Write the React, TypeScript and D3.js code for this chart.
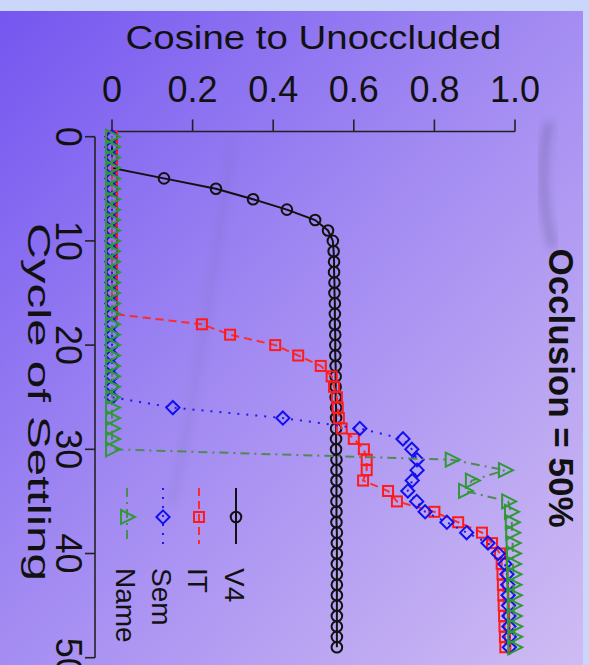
import React from 'react';
import * as d3 from 'd3';

// Settling cycle index (one point per cycle)
const cycles = [
  0, 1, 2, 3, 4, 5, 6, 7, 8, 9, 10, 11, 12, 13, 14, 15, 16, 17, 18, 19, 20, 21, 22, 23, 24,
  25, 26, 27, 28, 29, 30, 31, 32, 33, 34, 35, 36, 37, 38, 39, 40, 41, 42, 43, 44, 45, 46, 47, 48, 49,
];

// Cosine to the unoccluded pattern, per layer
const v4 = [
  0, 0, 0, 0, 0.129, 0.258, 0.35, 0.434, 0.504, 0.536, 0.548,
  0.55, 0.551, 0.551, 0.552, 0.552, 0.553, 0.553, 0.553, 0.554, 0.554,
  0.554, 0.555, 0.555, 0.555, 0.555, 0.556, 0.556, 0.556, 0.556, 0.556,
  0.557, 0.557, 0.557, 0.557, 0.557, 0.557, 0.557, 0.558, 0.558, 0.558,
  0.558, 0.558, 0.558, 0.558, 0.558, 0.558, 0.558, 0.558, 0.558,
];
const it = [
  0, 0, 0, 0, 0, 0, 0, 0, 0, 0, 0, 0, 0, 0, 0, 0, 0, 0,
  0.223, 0.293, 0.405, 0.462, 0.518, 0.545, 0.551, 0.558, 0.56, 0.563, 0.57, 0.6,
  0.625, 0.632, 0.632, 0.623, 0.685, 0.707, 0.8, 0.859, 0.918, 0.943,
  0.963, 0.967, 0.969, 0.97, 0.971, 0.972, 0.973, 0.974, 0.975, 0.976,
];
const sem = [
  0, 0, 0, 0, 0, 0, 0, 0, 0, 0, 0, 0, 0, 0, 0, 0, 0, 0, 0, 0, 0, 0, 0, 0, 0, 0,
  0.151, 0.424, 0.615, 0.722, 0.744, 0.757, 0.757, 0.745, 0.734, 0.756,
  0.777, 0.831, 0.88, 0.933, 0.958, 0.975, 0.98, 0.982, 0.983, 0.984,
  0.985, 0.985, 0.986, 0.986,
];
const nameLayer = [
  0, 0, 0, 0, 0, 0, 0, 0, 0, 0, 0, 0, 0, 0, 0, 0, 0, 0, 0, 0, 0, 0, 0, 0, 0, 0, 0, 0, 0, 0, 0,
  0.843, 0.975, 0.893, 0.876, 0.983,
  0.99, 0.992, 0.993, 0.994, 0.995, 0.995, 0.996, 0.996, 0.997, 0.997, 0.997, 0.998, 0.998, 0.998,
];

const cosineTicks = [0, 0.2, 0.4, 0.6, 0.8, 1.0];
const cosineTickLabels = ['0', '0.2', '0.4', '0.6', '0.8', '1.0'];
const cycleTicks = [0, 10, 20, 30, 40, 50];

const seriesNames = ['V4', 'IT', 'Sem', 'Name'];

type Shape = 'circle' | 'square' | 'diamond' | 'triangle';

interface Series {
  label: string;
  values: number[];
  line: string;
  marker: string;
  dash: string | undefined;
  shape: Shape;
}

const series: Series[] = [
  { label: seriesNames[0], values: v4, line: '#111111', marker: '#111111', dash: undefined, shape: 'circle' },
  { label: seriesNames[1], values: it, line: '#ff2a2a', marker: '#ff1a1a', dash: '8 5', shape: 'square' },
  { label: seriesNames[2], values: sem, line: '#1a1aee', marker: '#1010f0', dash: '2 7', shape: 'diamond' },
  { label: seriesNames[3], values: nameLayer, line: '#4f8a55', marker: '#2f9a35', dash: '9 5 2 5', shape: 'triangle' },
];

const W = 589;
const H = 665;

// Cosine runs left to right along the top, cycles run downward
const x = d3.scaleLinear().domain([0, 1]).range([112, 515]);
const y = d3.scaleLinear().domain([0, 50]).range([136.7, 657.7]);

const FONT = '"Liberation Sans", Arial, Helvetica, sans-serif';

function Marker({ shape, cx, cy, color }: { shape: Shape; cx: number; cy: number; color: string }) {
  const sw = 2;
  if (shape === 'circle') {
    return <circle cx={cx} cy={cy} r={5.3} fill="none" stroke={color} strokeWidth={sw} />;
  }
  if (shape === 'square') {
    return <rect x={cx - 5} y={cy - 5} width={10} height={10} fill="none" stroke={color} strokeWidth={sw} />;
  }
  if (shape === 'diamond') {
    const r = 6.6;
    const pts = [[cx, cy - r], [cx + r, cy], [cx, cy + r], [cx - r, cy]];
    return <polygon points={pts.map((p) => p.join(',')).join(' ')} fill="none" stroke={color} strokeWidth={sw} />;
  }
  // triangle pointing right
  const pts = [[cx - 6, cy - 7], [cx + 8, cy], [cx - 6, cy + 7]];
  return <polygon points={pts.map((p) => p.join(',')).join(' ')} fill="none" stroke={color} strokeWidth={sw} />;
}

export default function App() {
  const line = d3
    .line<number>()
    .x((d) => x(d))
    .y((_, i) => y(cycles[i]));

  const legendX = [236, 199, 163, 127];
  const legendMarkerY = 517;

  return (
    <svg
      width={W}
      height={H}
      viewBox={`0 0 ${W} ${H}`}
      style={{ position: 'absolute', left: 0, top: 0, display: 'block' }}
    >
      <defs>
        <linearGradient id="panelGrad" x1="0" y1="0" x2="1" y2="1">
          <stop offset="0%" stopColor="#7556f0" />
          <stop offset="45%" stopColor="#a088f2" />
          <stop offset="100%" stopColor="#cfbcf3" />
        </linearGradient>
        <filter id="soft" x="-50%" y="-50%" width="200%" height="200%">
          <feGaussianBlur stdDeviation="4" />
        </filter>
        <clipPath id="panelClip">
          <rect x={0} y={11} width={583} height={H - 11} />
        </clipPath>
      </defs>

      {/* frame and backdrop */}
      <rect x={0} y={0} width={W} height={H} fill="#cad6fa" />
      <rect x={0} y={11} width={583} height={H - 11} fill="url(#panelGrad)" />
      <g clipPath="url(#panelClip)">
        <path d="M 549 122 Q 536 185 553 248" fill="none" stroke="#5c5585" strokeWidth={9} opacity={0.32} filter="url(#soft)" />
        <path d="M 232 140 Q 212 300 172 505" fill="none" stroke="#6a62a0" strokeWidth={7} opacity={0.16} filter="url(#soft)" />
      </g>

      {/* top axis: cosine */}
      <text x={313.5} y={49} fontFamily={FONT} fontSize={34} textAnchor="middle" fill="#111" textLength={376} lengthAdjust="spacingAndGlyphs">
        Cosine to Unoccluded
      </text>
      {cosineTicks.map((t, i) => (
        <g key={`xt${i}`}>
          <line x1={x(t)} x2={x(t)} y1={119.5} y2={131.5} stroke="#222" strokeWidth={1.6} />
          <text x={x(t)} y={102} fontFamily={FONT} fontSize={36} textAnchor="middle" fill="#111">
            {cosineTickLabels[i]}
          </text>
        </g>
      ))}
      <line x1={x(0)} x2={x(1)} y1={131.5} y2={131.5} stroke="#222" strokeWidth={1.6} />

      {/* left axis: cycle of settling */}
      <line x1={95} x2={95} y1={y(0)} y2={y(50)} stroke="#222" strokeWidth={1.6} />
      {cycleTicks.map((t) => (
        <g key={`yt${t}`}>
          <line x1={85} x2={95} y1={y(t)} y2={y(t)} stroke="#222" strokeWidth={1.6} />
          <text
            transform={`translate(56,${y(t)}) rotate(90)`}
            fontFamily={FONT}
            fontSize={36}
            textAnchor="middle"
            fill="#111"
          >
            {t}
          </text>
        </g>
      ))}
      <text
        transform={`translate(28,${402}) rotate(90)`}
        fontFamily={FONT}
        fontSize={32}
        textAnchor="middle"
        fill="#111"
        textLength={358}
        lengthAdjust="spacingAndGlyphs"
      >
        Cycle of Settling
      </text>

      {/* panel title */}
      <text
        transform={`translate(549,${388}) rotate(90)`}
        fontFamily={FONT}
        fontSize={35}
        fontWeight="bold"
        textAnchor="middle"
        fill="#111"
      >
        Occlusion = 50%
      </text>

      {/* series */}
      {series.map((s) => (
        <g key={s.label}>
          <path
            d={line(s.values) ?? ''}
            fill="none"
            stroke={s.line}
            strokeWidth={2}
            strokeDasharray={s.dash}
          />
          {s.values.map((v, i) => (
            <Marker key={i} shape={s.shape} cx={x(v)} cy={y(cycles[i])} color={s.marker} />
          ))}
        </g>
      ))}

      {/* legend */}
      {series.map((s, i) => (
        <g key={`lg${s.label}`}>
          <line
            x1={legendX[i]}
            x2={legendX[i]}
            y1={legendMarkerY - 29}
            y2={legendMarkerY + 27}
            stroke={s.line}
            strokeWidth={2}
            strokeDasharray={s.dash}
          />
          <Marker shape={s.shape} cx={legendX[i]} cy={legendMarkerY} color={s.marker} />
          <text
            transform={`translate(${legendX[i] - 11},${568}) rotate(90)`}
            fontFamily={FONT}
            fontSize={28}
            fill="#111"
          >
            {s.label}
          </text>
        </g>
      ))}
    </svg>
  );
}
